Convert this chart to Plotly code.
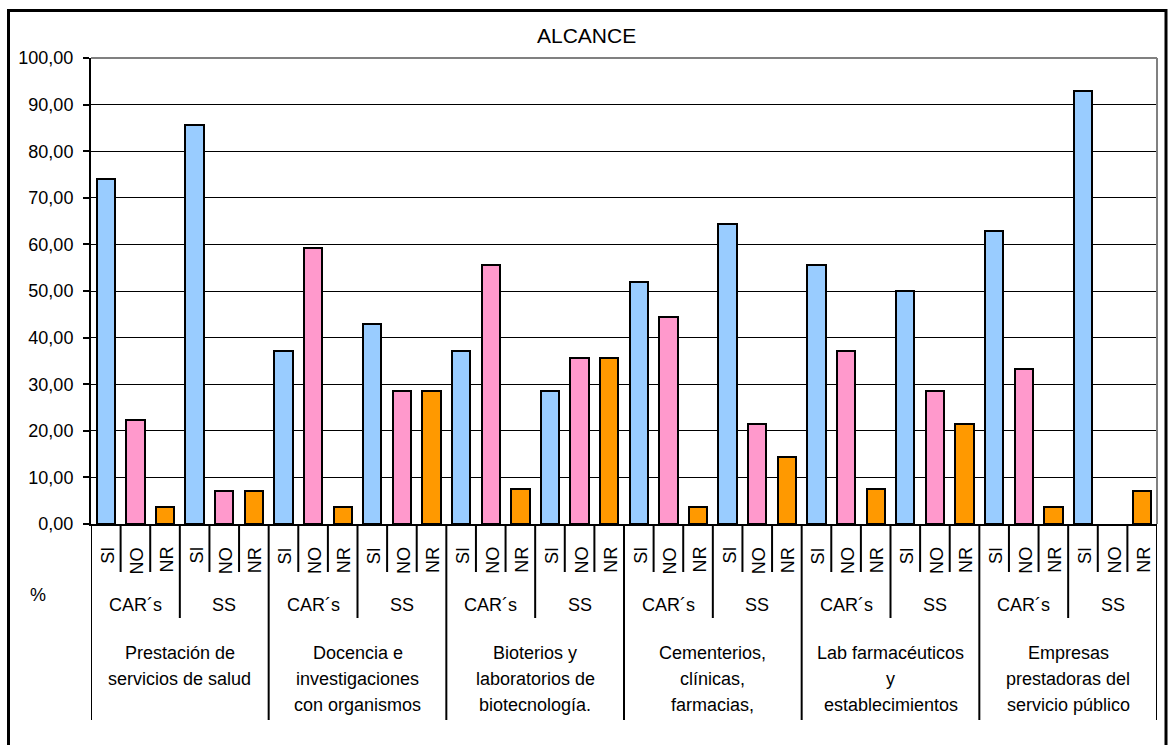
import plotly.graph_objects as go

# ---- data ----
groups = [
    ["Prestación de", "servicios de salud"],
    ["Docencia e", "investigaciones", "con organismos"],
    ["Bioterios y", "laboratorios de", "biotecnología."],
    ["Cementerios,", "clínicas,", "farmacias,"],
    ["Lab farmacéuticos", "y", "establecimientos"],
    ["Empresas", "prestadoras del", "servicio público"],
]
subgroups = ["CAR´s", "SS"]
responses = ["SI", "NO", "NR"]
# values ordered group by group: (CAR´s, SS) for each group
si_vals = [74.07, 85.71, 37.04, 42.86, 37.04, 28.57, 51.85, 64.29, 55.56, 50.00, 62.96, 92.86]
no_vals = [22.22, 7.14, 59.26, 28.57, 55.56, 35.71, 44.44, 21.43, 37.04, 28.57, 33.33, 0.00]
nr_vals = [3.70, 7.14, 3.70, 28.57, 7.41, 35.71, 3.70, 14.29, 7.41, 21.43, 3.70, 7.14]
colors = {"SI": "#99CCFF", "NO": "#FF99CC", "NR": "#FF9900"}
y_ticks = [0, 10, 20, 30, 40, 50, 60, 70, 80, 90, 100]
y_ticktext = ["0,00", "10,00", "20,00", "30,00", "40,00", "50,00", "60,00", "70,00", "80,00", "90,00", "100,00"]
title_text = "ALCANCE"
unit_text = "%"

# ---- layout geometry (pixels) ----
W, H = 1168, 745
PL, PR, PT, PB = 91, 1157, 58, 524
FONT = "Arial, Liberation Sans, sans-serif"


def px_x(p):
    return (p - PL) / (PR - PL)


def px_y(p):
    return (PB - p) / (PB - PT)


n_sub = len(subgroups)
n_resp = len(responses)
series = {"SI": si_vals, "NO": no_vals, "NR": nr_vals}

fig = go.Figure()
for r_i, resp in enumerate(responses):
    xs, ys, lw = [], [], []
    for k, v in enumerate(series[resp]):
        g, s = divmod(k, n_sub)
        xs.append(g * n_sub * n_resp + s * n_resp + r_i)
        ys.append(v)
        lw.append(2 if v > 0 else 0)
    fig.add_trace(go.Bar(
        x=xs, y=ys, name=resp, width=0.62,
        marker=dict(color=colors[resp], line=dict(color="black", width=lw)),
        hovertemplate=resp + ": %{y:.2f}<extra></extra>",
    ))

n_total = len(groups) * n_sub * n_resp

shapes = []
annotations = []

# separators under the axis
for k in range(n_total + 1):
    xb = k - 0.5
    if k % (n_sub * n_resp) == 0:
        yb = 720
    elif k % n_resp == 0:
        yb = 618
    else:
        yb = 572
    shapes.append(dict(type="line", xref="x", yref="paper", x0=xb, x1=xb,
                       y0=0, y1=px_y(yb), line=dict(color="black", width=2)))

# response labels (rotated)
for k in range(n_total):
    annotations.append(dict(x=k + 0.05, y=px_y(545), xref="x", yref="paper",
                            text=responses[k % n_resp], textangle=-90,
                            showarrow=False, xanchor="center", yanchor="top",
                            font=dict(family=FONT, size=18, color="black")))

# subgroup labels
for g in range(len(groups)):
    for s, sub in enumerate(subgroups):
        xc = g * n_sub * n_resp + s * n_resp + (n_resp - 1) / 2
        annotations.append(dict(x=xc, y=px_y(605), xref="x", yref="paper",
                                text=sub, showarrow=False, xanchor="center", yanchor="middle",
                                font=dict(family=FONT, size=18, color="black")))

# group labels (one annotation per line)
line_y = [653, 679, 705]
for g, lines in enumerate(groups):
    xc = g * n_sub * n_resp + (n_sub * n_resp - 1) / 2
    for li, txt in enumerate(lines):
        annotations.append(dict(x=xc, y=px_y(line_y[li]), xref="x", yref="paper",
                                text=txt, showarrow=False, xanchor="center", yanchor="middle",
                                font=dict(family=FONT, size=18, color="black")))

# % label
annotations.append(dict(x=px_x(38), y=px_y(595), xref="paper", yref="paper",
                        text=unit_text, showarrow=False, xanchor="center", yanchor="middle",
                        font=dict(family=FONT, size=18, color="black")))

# title
annotations.append(dict(x=px_x(586), y=px_y(36), xref="paper", yref="paper",
                        text=title_text, showarrow=False, xanchor="center", yanchor="middle",
                        font=dict(family=FONT, size=21, color="black")))

# plot area border (top and right, grey)
shapes.append(dict(type="line", xref="paper", yref="paper", x0=0, x1=1, y0=1, y1=1,
                   line=dict(color="#808080", width=2)))
shapes.append(dict(type="line", xref="paper", yref="paper", x0=1, x1=1, y0=0, y1=1,
                   line=dict(color="#808080", width=2)))
# outer chart border
shapes.append(dict(type="rect", xref="paper", yref="paper",
                   x0=px_x(8.5), x1=px_x(1166), y0=px_y(780), y1=px_y(10.5),
                   line=dict(color="black", width=3), fillcolor="rgba(0,0,0,0)"))

fig.update_layout(
    width=W, height=H,
    margin=dict(l=PL, r=W - PR, t=PT, b=H - PB),
    paper_bgcolor="white", plot_bgcolor="white",
    showlegend=False, barmode="overlay", bargap=0,
    font=dict(family=FONT, size=18, color="black"),
    shapes=shapes, annotations=annotations,
    xaxis=dict(range=[-0.5, n_total - 0.5], showticklabels=False, ticks="",
               showgrid=False, zeroline=False, showline=True, linecolor="black",
               linewidth=2, fixedrange=True),
    yaxis=dict(range=[0, 100], tickvals=y_ticks, ticktext=y_ticktext,
               showgrid=True, gridcolor="black", gridwidth=1, zeroline=False,
               showline=True, linecolor="black", linewidth=2,
               ticks="outside", ticklen=6, tickwidth=1.5, tickcolor="black",
               ticklabelstandoff=6,
               tickfont=dict(family=FONT, size=18, color="black"), fixedrange=True),
)

fig.write_html("out.html")
